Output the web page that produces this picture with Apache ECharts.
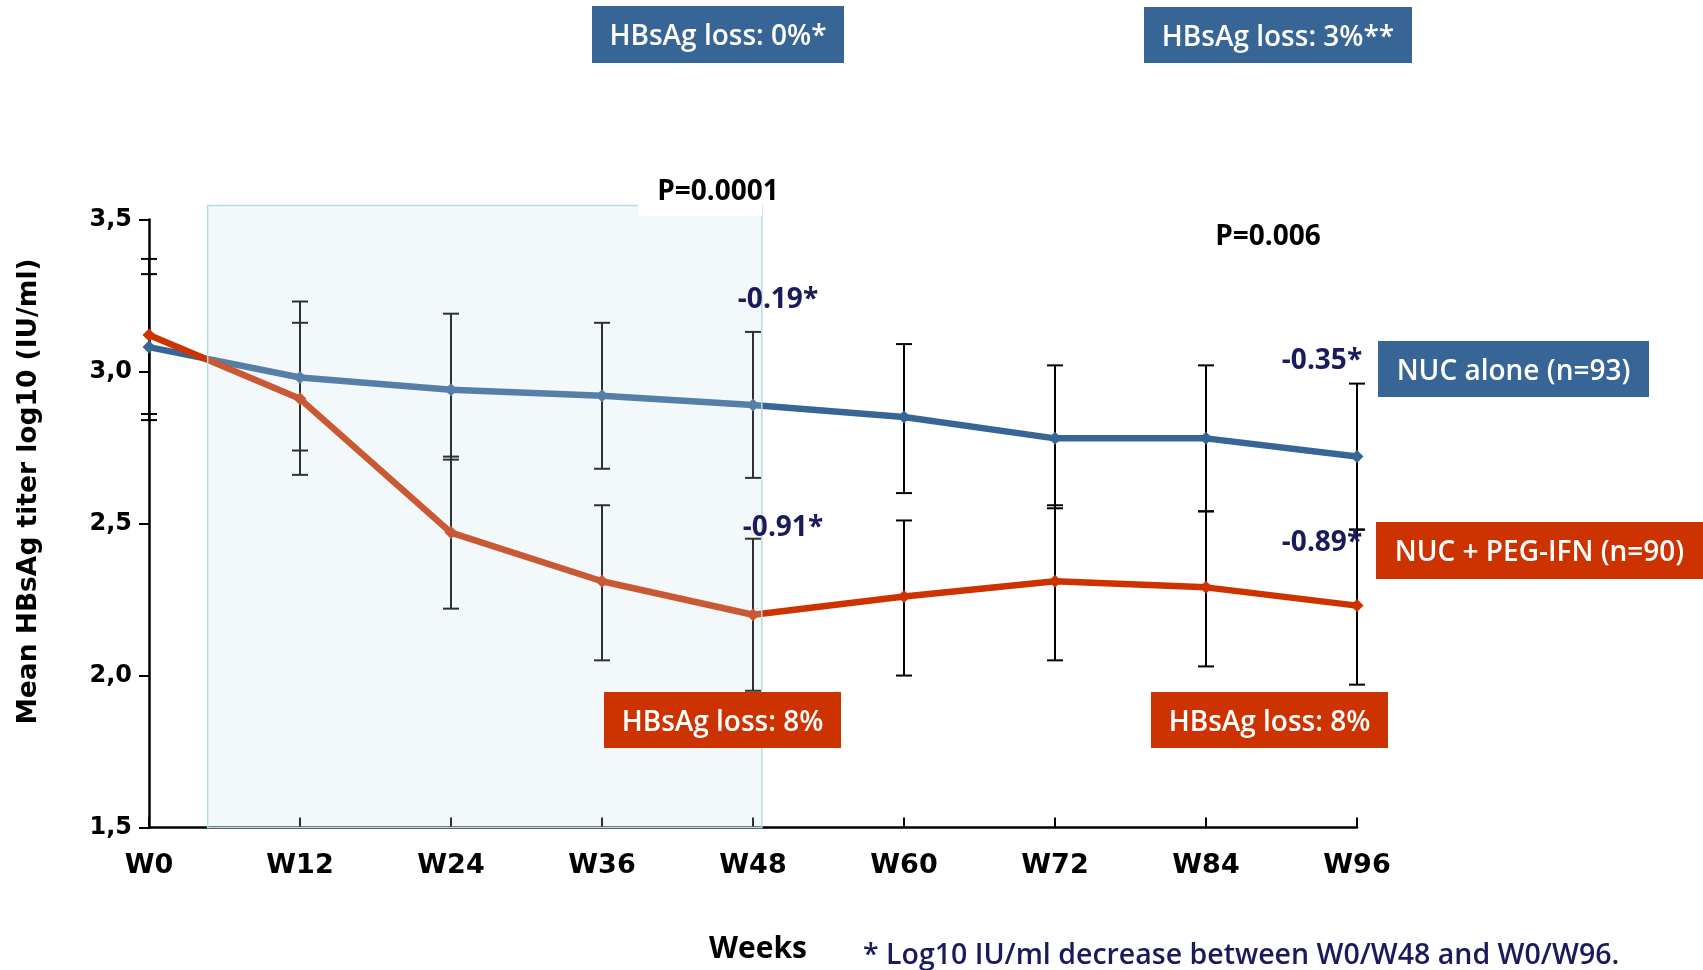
<!DOCTYPE html>
<html>
<head>
<meta charset="utf-8">
<script src="https://cdn.jsdelivr.net/npm/echarts@6/dist/echarts.min.js"></script>
<style>
html,body{margin:0;padding:0;background:#fff;}
#chart{width:1703px;height:970px;}
</style>
</head>
<body>
<div id="chart"></div>
<script>
// ---- data ----
const weeks = [0, 12, 24, 36, 48, 60, 72, 84, 96];
const weekLabels = ['W0', 'W12', 'W24', 'W36', 'W48', 'W60', 'W72', 'W84', 'W96'];
const yTickLabels = ['1,5', '2,0', '2,5', '3,0', '3,5'];
const nucAlone     = [3.08, 2.98, 2.94, 2.92, 2.89, 2.85, 2.78, 2.78, 2.72];
const nucAloneLow  = [2.84, 2.74, 2.71, 2.68, 2.65, 2.60, 2.55, 2.54, 2.48];
const nucAloneHigh = [3.32, 3.23, 3.19, 3.16, 3.13, 3.09, 3.02, 3.02, 2.96];
const nucPeg       = [3.12, 2.91, 2.47, 2.31, 2.20, 2.26, 2.31, 2.29, 2.23];
const nucPegLow    = [2.86, 2.66, 2.22, 2.05, 1.95, 2.00, 2.05, 2.03, 1.97];
const nucPegHigh   = [3.37, 3.16, 2.72, 2.56, 2.45, 2.51, 2.56, 2.54, 2.48];
const shadedWeeks  = [4.66, 48.7];
const shadedTop    = 3.546;

const BLUE = '#376595';
const RED = '#cc3300';
const NAVY = '#1a1a5c';
const FONT = 'Open Sans';
const AXFONT = 'DejaVu Sans';

const chart = echarts.init(document.getElementById('chart'));

function pairs(vals) { return weeks.map((w, i) => [w, vals[i]]); }
function bars(lo, hi) { return weeks.map((w, i) => [w, lo[i], hi[i]]); }

function renderErr(params, api) {
  const x = api.value(0);
  const a = api.coord([x, api.value(1)]);
  const b = api.coord([x, api.value(2)]);
  const w = 8;
  const st = { stroke: '#000', lineWidth: 2 };
  return {
    type: 'group',
    children: [
      { type: 'line', shape: { x1: a[0], y1: a[1], x2: b[0], y2: b[1] }, style: st },
      { type: 'line', shape: { x1: a[0] - w, y1: a[1], x2: a[0] + w, y2: a[1] }, style: st },
      { type: 'line', shape: { x1: b[0] - w, y1: b[1], x2: b[0] + w, y2: b[1] }, style: st }
    ]
  };
}

const option = {
  animation: false,
  backgroundColor: '#fff',
  grid: { left: 149, right: 346, top: 219.4, bottom: 142.4, containLabel: false },
  xAxis: {
    type: 'value', min: 0, max: 96, interval: 12,
    axisLine: { lineStyle: { color: '#000', width: 2.5 } },
    axisTick: { inside: true, length: 10, lineStyle: { color: '#000', width: 2 } },
    splitLine: { show: false },
    axisLabel: {
      margin: 25, color: '#000', fontFamily: AXFONT, fontWeight: 'bold', fontSize: 27,
      formatter: v => weekLabels[weeks.indexOf(v)] || ''
    }
  },
  yAxis: {
    type: 'value', min: 1.5, max: 3.5, interval: 0.5,
    axisLine: { show: true, lineStyle: { color: '#000', width: 2.5 } },
    axisTick: { show: true, length: 10, lineStyle: { color: '#000', width: 2 } },
    splitLine: { show: false },
    axisLabel: {
      margin: 17, color: '#000', fontFamily: AXFONT, fontWeight: 'bold', fontSize: 24,
      formatter: v => yTickLabels[Math.round((v - 1.5) / 0.5)]
    }
  },
  series: [
    { type: 'custom', name: 'errA', renderItem: renderErr, data: bars(nucAloneLow, nucAloneHigh), z: 1, encode: { x: 0, y: [1, 2] } },
    { type: 'custom', name: 'errP', renderItem: renderErr, data: bars(nucPegLow, nucPegHigh), z: 1, encode: { x: 0, y: [1, 2] } },
    {
      type: 'line', name: 'NUC alone (n=93)', data: pairs(nucAlone), z: 3,
      symbol: 'diamond', symbolSize: 13, lineStyle: { color: BLUE, width: 6.5 },
      itemStyle: { color: BLUE }
    },
    {
      type: 'line', name: 'NUC + PEG-IFN (n=90)', data: pairs(nucPeg), z: 3,
      symbol: 'diamond', symbolSize: 13, lineStyle: { color: RED, width: 6.5 },
      itemStyle: { color: RED }
    }
  ]
};
chart.setOption(option);

const p1 = chart.convertToPixel({ gridIndex: 0 }, [shadedWeeks[0], shadedTop]);
const p2 = chart.convertToPixel({ gridIndex: 0 }, [shadedWeeks[1], 1.5]);

function box(x, y, w, h, fill, text) {
  return {
    type: 'group', z: 20,
    children: [
      { type: 'rect', shape: { x: x, y: y, width: w, height: h }, style: { fill: fill }, z: 20 },
      { type: 'text', x: x + w / 2, y: y + h / 2 + 3, z: 21,
        style: { text: text, fill: '#fff', font: '600 28px "' + FONT + '"', align: 'center', verticalAlign: 'middle' } }
    ]
  };
}
function label(x, y, text, color, fs, weight) {
  return { type: 'text', x: x, y: y, z: 22,
    style: { text: text, fill: color, font: (weight || 'bold') + ' ' + fs + 'px "' + FONT + '"', align: 'center', verticalAlign: 'middle' } };
}

chart.setOption({
  graphic: [
    { type: 'rect', z: 10,
      shape: { x: p1[0], y: p1[1], width: p2[0] - p1[0], height: p2[1] - p1[1] },
      style: { fill: 'rgba(200,225,238,0.22)', stroke: '#b4dde1', lineWidth: 1.5 } },
    { type: 'rect', z: 11, shape: { x: 638, y: 170, width: 124, height: 46 }, style: { fill: '#fff' } },
    label(718, 192, 'P=0.0001', '#000', 28),
    label(1268, 237, 'P=0.006', '#000', 28),
    box(592, 6, 252, 57, BLUE, 'HBsAg loss: 0%*'),
    box(1144, 7, 268, 56, BLUE, 'HBsAg loss: 3%**'),
    box(604, 692, 237, 56, RED, 'HBsAg loss: 8%'),
    box(1151, 692, 237, 56, RED, 'HBsAg loss: 8%'),
    box(1378, 341, 271, 56, BLUE, 'NUC alone (n=93)'),
    box(1376, 522, 327, 57, RED, 'NUC + PEG-IFN (n=90)'),
    label(778, 300, '-0.19*', NAVY, 28),
    label(783, 528, '-0.91*', NAVY, 28),
    label(1322, 361, '-0.35*', NAVY, 28),
    label(1322, 543, '-0.89*', NAVY, 28),
    label(758, 949, 'Weeks', '#000', 30),
    { type: 'text', x: 863, y: 956, z: 22,
      style: { text: '* Log10 IU/ml decrease between W0/W48 and W0/W96.', fill: NAVY, font: '600 28.5px "' + FONT + '"', align: 'left', verticalAlign: 'middle' } },
    { type: 'text', x: 29, y: 491.5, rotation: Math.PI / 2, z: 22,
      style: { text: 'Mean HBsAg titer log10 (IU/ml)', fill: '#000', font: 'bold 26.5px "' + AXFONT + '"', align: 'center', verticalAlign: 'middle' } }
  ]
});
</script>
</body>
</html>
